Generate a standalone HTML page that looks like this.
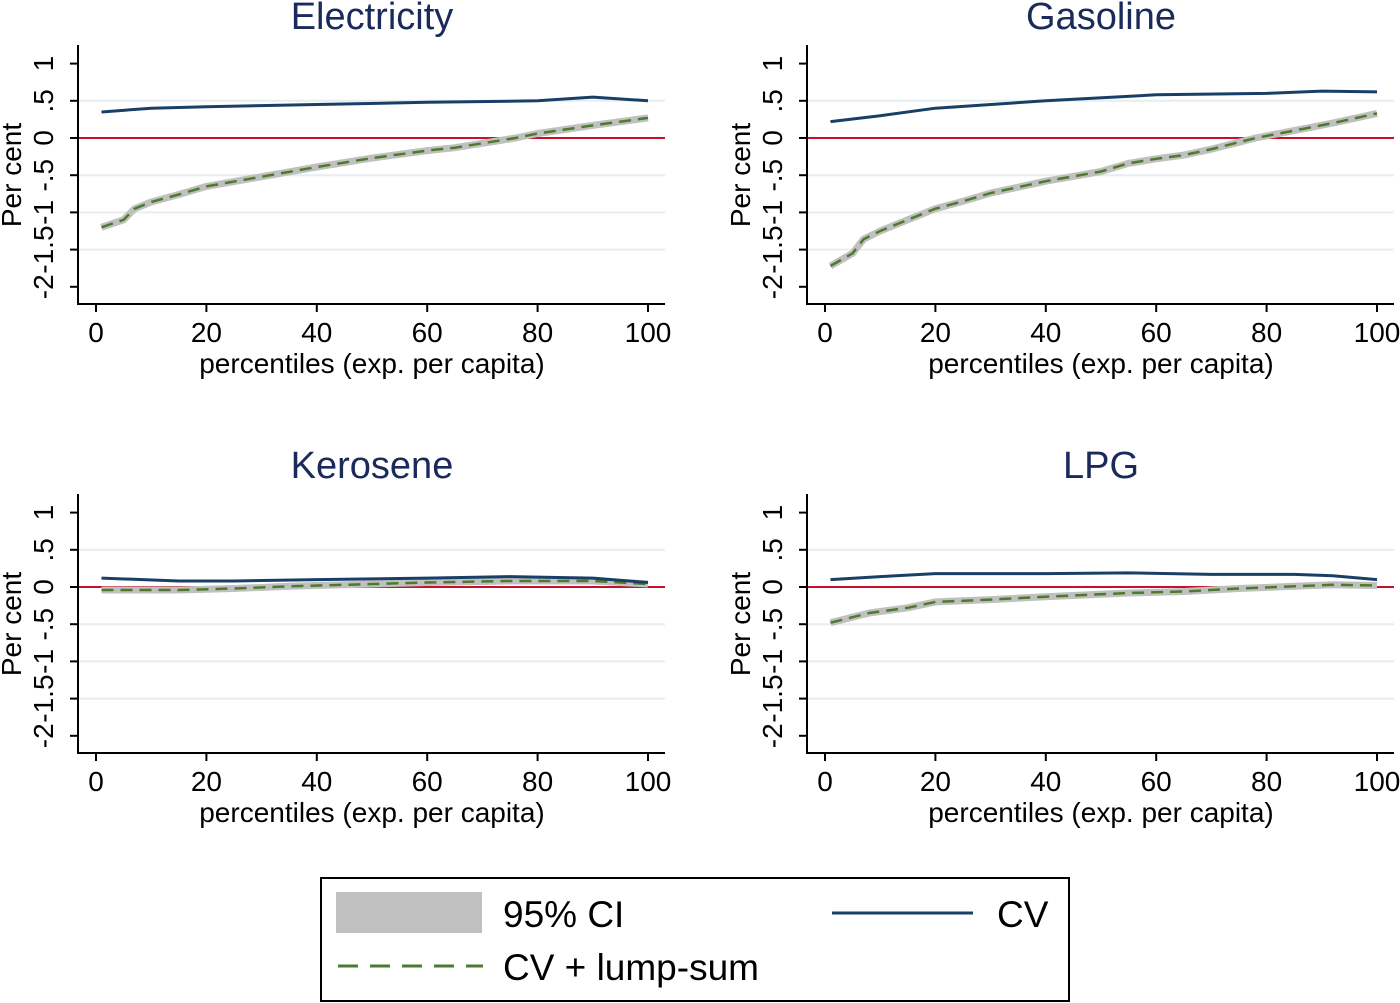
<!DOCTYPE html>
<html><head><meta charset="utf-8"><style>
html,body{margin:0;padding:0;background:#fff}
svg{display:block;font-family:"Liberation Sans",Arial,sans-serif}
</style></head><body>
<svg id="chart" width="1400" height="1003" viewBox="0 0 1400 1003"></svg>
<script>
const panelTitles = ["Electricity","Gasoline","Kerosene","LPG"];
const cvX = [[1,10,20,40,60,80,90,100],[1,10,20,40,60,80,90,100],[1,15,25,40,60,75,90,100],[1,10,20,40,55,70,85,92,100]];
const cvY = [[0.35,0.40,0.42,0.45,0.48,0.50,0.55,0.50],[0.22,0.30,0.40,0.50,0.58,0.60,0.63,0.62],[0.12,0.08,0.08,0.10,0.12,0.14,0.12,0.06],[0.10,0.14,0.18,0.18,0.19,0.17,0.17,0.15,0.10]];
const lsX = [[1,5,7,10,15,20,30,40,50,60,65,76,80,90,100],[1,5,7,10,15,20,25,30,40,50,55,60,65,70,78,85,92,100],[1,15,25,35,45,60,75,90,100],[1,8,15,20,30,40,55,65,75,85,92,100]];
const lsY = [[-1.2,-1.1,-0.95,-0.86,-0.76,-0.65,-0.52,-0.39,-0.27,-0.17,-0.13,0.0,0.06,0.17,0.27],[-1.72,-1.55,-1.36,-1.25,-1.1,-0.95,-0.85,-0.74,-0.58,-0.45,-0.34,-0.28,-0.23,-0.15,0.0,0.1,0.2,0.33],[-0.04,-0.04,-0.02,0.01,0.03,0.06,0.08,0.08,0.04],[-0.48,-0.35,-0.28,-0.2,-0.17,-0.13,-0.08,-0.06,-0.02,0.01,0.03,0.02]];
const yTicks = [1,0.5,0,-0.5,-1,-1.5,-2];
const yTickLabels = ["1",".5","0","-.5","-1","-1.5","-2"];
const xTicks = [0,20,40,60,80,100];

const NS="http://www.w3.org/2000/svg";
const svg=document.getElementById('chart');
function mk(tag,attrs,parent){const e=document.createElementNS(NS,tag);for(const k in attrs)e.setAttribute(k,attrs[k]);(parent||svg).appendChild(e);return e;}
const offsets=[[0,0],[729,0],[0,449],[729,449]];
panelTitles.forEach((t,i)=>{
  const [ox,oy]=offsets[i];
  const g=mk('g',{});
  
  
  const sx=v=>ox+96+v*5.52;
  const sy=v=>oy+138-v*74.4;
  [0.5,-0.5,-1,-1.5].forEach(v=>{
    const l=mk('line',{x1:ox+79,x2:ox+665,y1:sy(v),y2:sy(v),stroke:'#e6eef0','stroke-width':2},g);
    
    
  });
  const z=mk('line',{x1:ox+79,x2:ox+665,y1:sy(0),y2:sy(0),stroke:'#c8102e','stroke-width':2},g);
  
  
  const ya=mk('line',{x1:ox+78,x2:ox+78,y1:oy+45,y2:oy+304,stroke:'#000','stroke-width':2},g);
  
  
  const xa=mk('line',{x1:ox+77,x2:ox+665,y1:oy+304,y2:oy+304,stroke:'#000','stroke-width':2},g);
  
  
  yTicks.forEach((v,k)=>{
    mk('line',{x1:ox+70,x2:ox+78,y1:sy(v),y2:sy(v),stroke:'#000','stroke-width':2},g);
    const tx=mk('text',{x:ox+53,y:sy(v),'font-size':28,'text-anchor':'middle',transform:`rotate(-90 ${ox+53} ${sy(v)})`},g);
    tx.textContent=yTickLabels[k];
    
    
  });
  xTicks.forEach(v=>{
    mk('line',{x1:sx(v),x2:sx(v),y1:oy+304,y2:oy+312,stroke:'#000','stroke-width':2},g);
    const tx=mk('text',{x:sx(v),y:oy+342,'font-size':28,'text-anchor':'middle'},g);
    tx.textContent=v;
    
    
  });
  const yt=mk('text',{x:ox+21,y:oy+175,'font-size':28,'text-anchor':'middle',transform:`rotate(-90 ${ox+21} ${oy+175})`},g);
  yt.textContent='Per cent';
  
  
  const xt=mk('text',{x:ox+372,y:oy+373,'font-size':28,'text-anchor':'middle'},g);
  xt.textContent='percentiles (exp. per capita)';
  
  
  const ti=mk('text',{x:ox+372,y:oy+29,'font-size':38,'text-anchor':'middle',fill:'#1a2a5a'},g);
  ti.textContent=t;
  
  
  const pts=(xs,ys)=>xs.map((x,k)=>sx(x).toFixed(1)+','+sy(ys[k]).toFixed(1)).join(' ');
  const ci=mk('polyline',{points:pts(lsX[i],lsY[i]),fill:'none',stroke:'#c0c0c0','stroke-width':7,'stroke-linejoin':'round'},g);
  
  
  const ls=mk('polyline',{points:pts(lsX[i],lsY[i]),fill:'none',stroke:'#4e7a2c','stroke-width':2.5,'stroke-dasharray':'12 7'},g);
  
  
  const cv=mk('polyline',{points:pts(cvX[i],cvY[i]),fill:'none',stroke:'#1a3f66','stroke-width':3,'stroke-linejoin':'round'},g);
  
  
});
const lg=mk('g',{});


mk('rect',{x:321,y:878,width:748,height:123,fill:'#fff',stroke:'#000','stroke-width':2},lg);
const r=mk('rect',{x:336,y:892,width:146,height:41,fill:'#c0c0c0'},lg);


const t1=mk('text',{x:503,y:927,'font-size':37},lg);t1.textContent='95% CI';


mk('line',{x1:832,x2:973,y1:913,y2:913,stroke:'#1a3f66','stroke-width':3},lg);
const t2=mk('text',{x:997,y:927,'font-size':37},lg);t2.textContent='CV';


mk('line',{x1:338,x2:483,y1:966,y2:966,stroke:'#4e7a2c','stroke-width':3,'stroke-dasharray':'20 12'},lg);
const t3=mk('text',{x:503,y:980,'font-size':37},lg);t3.textContent='CV + lump-sum';


</script>
</body></html>
